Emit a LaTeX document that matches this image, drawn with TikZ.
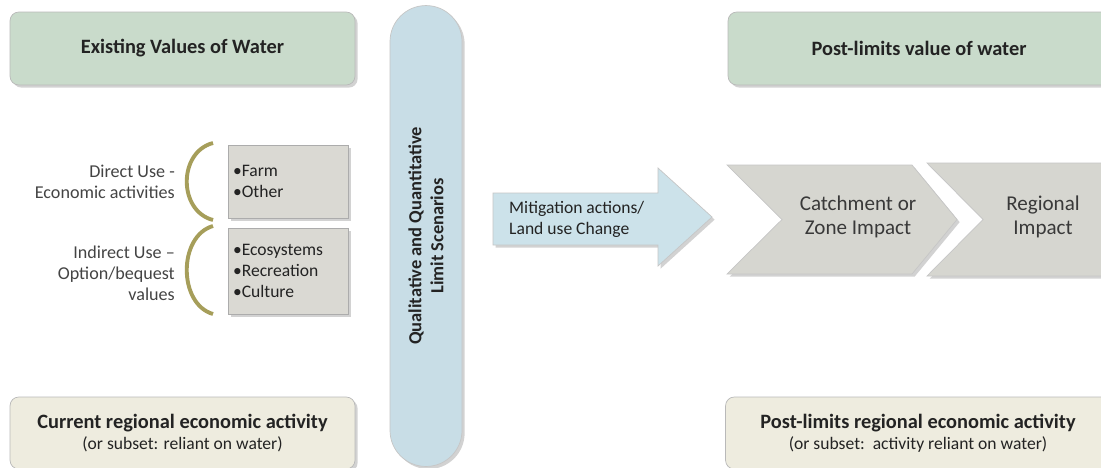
\documentclass[tikz,border=0pt]{standalone}
\usepackage{fontspec}
\setmainfont{Carlito}
\usetikzlibrary{shapes,shadows,positioning}
\definecolor{titlegreen}{HTML}{C9DBCB}
\definecolor{scenblue}{HTML}{C8DDE6}
\definecolor{arrowblue}{HTML}{CCE2EA}
\definecolor{chevgray}{HTML}{D6D6D0}
\definecolor{itemgray}{HTML}{DAD9D3}
\definecolor{econbeige}{HTML}{EEECDF}
\definecolor{bracegold}{HTML}{A69E5A}
\definecolor{textdark}{HTML}{232323}
\newcommand{\headfont}{\fontsize{11.6}{14}\selectfont\bfseries}

\begin{document}
\begin{tikzpicture}[x=0.02cm, y=-0.02cm,
    dropshade/.style={drop shadow={shadow xshift=1.5pt, shadow yshift=-1.5pt, opacity=0.35}},
    titlebox/.style={draw=gray!55, fill=titlegreen, rounded corners=5pt, minimum height=1.46cm, font=\headfont, text=textdark, dropshade},
    econbox/.style={draw=gray!55, fill=econbeige, rounded corners=5pt, minimum height=1.44cm, align=center, text=textdark, dropshade},
    itembox/.style={draw=gray!65, fill=itemgray, minimum width=2.4cm, text width=2.2cm, align=left, inner sep=2pt, text=textdark, dropshade},
    uselabel/.style={anchor=east, align=right, text=textdark!85, font=\fontsize{10.3}{12}\selectfont},
    brace/.style={draw=bracegold, line width=2.2pt},
    panel/.style={draw=gray!45, dropshade}]
    \clip (0,0) rectangle (1101,467);
    \fill[white] (0,0) rectangle (1101,467);

    % Top titles
    \node[titlebox, minimum width=6.9cm] (existing) at (182.5,48.5) {Existing Values of Water};
    \node[titlebox, minimum width=7.64cm] (postvalue) at (919,48.5) {Post-limits value of water};

    % Scenarios pill
    \node[draw=gray!45, fill=scenblue, rounded corners=0.72cm, minimum width=1.44cm, minimum height=9.22cm, dropshade] (scen) at (426,236) {};
    \node[rotate=90, align=center, text=textdark, font=\fontsize{10.5}{12.5}\selectfont\bfseries] (scentext) at (scen.center) {Qualitative and Quantitative\\Limit Scenarios};

    % Uses of water
    \node[itembox, minimum height=1.46cm] (direct) at (288,181.5) {\textbullet Farm\\\textbullet Other};
    \node[itembox, minimum height=1.72cm] (indirect) at (288,271) {\textbullet Ecosystems\\\textbullet Recreation\\\textbullet Culture};
    \node[uselabel] (directlbl) at (181,182) {Direct Use -\\Economic activities};
    \node[uselabel] (indirectlbl) at (181,273) {Indirect Use --\\Option/bequest\\values};
    \draw[brace] (213,143) .. controls (178,152) and (178,211) .. (213,220);
    \draw[brace] (213,226) .. controls (178,236) and (178,304) .. (213,314);

    % Mitigation arrow
    \draw[panel, fill=arrowblue] (493,193) -- (658,193) -- (658,168) -- (712,217) -- (658,266) -- (658,245) -- (493,245) -- cycle;
    \node[anchor=west, align=left, text=textdark] (mitig) at (503,219) {Mitigation actions/\\Land use Change};

    % Impact chevrons
    \draw[panel, fill=chevgray] (927,163) -- (1110,163) -- (1110,276) -- (927,276) -- (983,219.5) -- cycle;
    \draw[panel, fill=chevgray] (727,165) -- (912,165) -- (957,219.5) -- (912,274) -- (727,274) -- (782,219.5) -- cycle;
    \node[align=center, font=\large, text=textdark!90] (catch) at (858,217) {Catchment or\\Zone Impact};
    \node[align=center, font=\large, text=textdark!90] (region) at (1043,217) {Regional\\Impact};

    % Economic activity
    \node[econbox, minimum width=6.9cm] (current) at (182.5,433) {{\headfont Current regional economic activity}\\(or subset: reliant on water)};
    \node[econbox, minimum width=7.7cm] (postecon) at (918,433) {{\headfont Post-limits regional economic activity}\\(or subset:\ \ activity reliant on water)};
\end{tikzpicture}
\end{document}
